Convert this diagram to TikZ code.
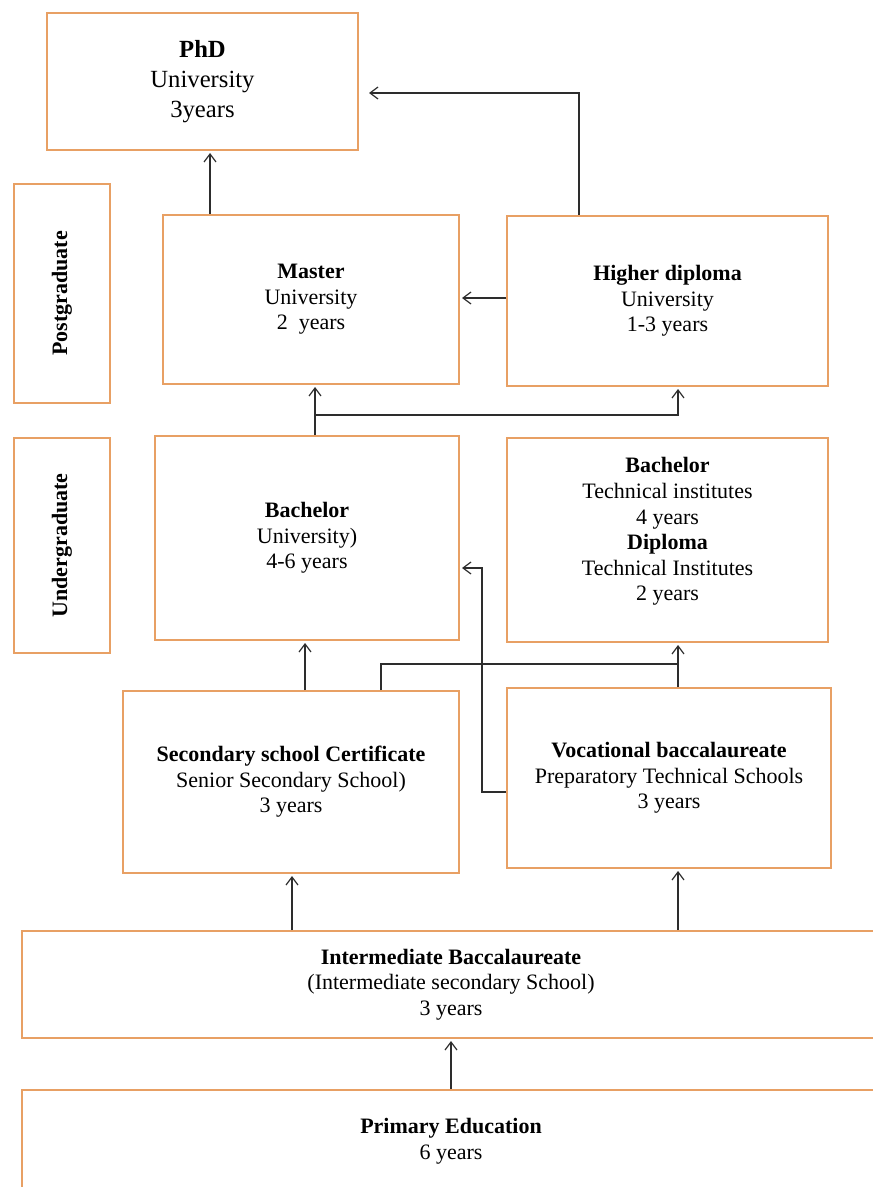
\documentclass[tikz,border=0pt]{standalone}
\usepackage{fontspec}
\setmainfont{Liberation Serif}
\usetikzlibrary{arrows.meta}

\definecolor{boxorange}{RGB}{232,160,100}
\definecolor{linegray}{RGB}{45,45,45}

\tikzset{every picture/.style={line width=0.75pt}}
\tikzset{
  stagebox/.style={draw=boxorange, line width=1.5pt, fill=white, inner sep=0pt, align=center,
    font=\fontsize{16.5}{19.2}\selectfont},
  levelbox/.style={stagebox, rotate=90, font=\fontsize{16.5}{19.2}\selectfont\bfseries},
  arr/.style={draw=linegray, line width=0.9pt, -{Straight Barb[length=6pt,width=9pt]}, shorten >=1.5pt},
  link/.style={draw=linegray, line width=0.9pt}
}

\begin{document}
\begin{tikzpicture}[x=0.75pt,y=0.75pt,yscale=-1,xscale=1]
\useasboundingbox (0,0) rectangle (873,1187);
\clip (0,0) rectangle (873,1187);

%Shape: Rectangle [PhD]
\node[stagebox, minimum width=233.25pt, minimum height=102.75pt, font=\fontsize{18.5}{22.5}\selectfont] (phd) at (202.5,81.5)
  {\textbf{PhD}\\University\\3years};
%Shape: Rectangle [levels]
\node[levelbox, minimum width=164.25pt, minimum height=72pt] (post) at (62,293.5) {Postgraduate};
\node[levelbox, minimum width=161.25pt, minimum height=72pt] (under) at (62,545.5) {Undergraduate};
%Shape: Rectangle [postgraduate]
\node[stagebox, minimum width=222pt, minimum height=126.75pt] (master) at (311,299.5)
  {\textbf{Master}\\University\\2\ \ years};
\node[stagebox, minimum width=240.75pt, minimum height=127.5pt] (hdip) at (667.5,301)
  {\textbf{Higher diploma}\\University\\1-3 years};
%Shape: Rectangle [undergraduate]
\node[stagebox, minimum width=228pt, minimum height=153pt] (bachu) at (307,538)
  {\textbf{Bachelor}\\University)\\4-6 years};
\node[stagebox, minimum width=240.75pt, minimum height=153pt] (btech) at (667.5,540)
  {\textbf{Bachelor}\\Technical institutes\\4 years\\\textbf{Diploma}\\Technical Institutes\\2 years\\[-3pt]\mbox{}};
%Shape: Rectangle [secondary]
\node[stagebox, minimum width=252pt, minimum height=136.5pt] (sec) at (291,782)
  {\textbf{Secondary school Certificate}\\Senior Secondary School)\\3 years};
\node[stagebox, minimum width=243pt, minimum height=135pt] (voc) at (669,778)
  {\textbf{Vocational baccalaureate}\\Preparatory Technical Schools\\3 years};
%Shape: Rectangle [basic]
\node[stagebox, minimum width=643.5pt, minimum height=80.25pt] (inter) at (451,984.5)
  {\textbf{Intermediate Baccalaureate}\\(Intermediate secondary School)\\3 years};
\node[stagebox, minimum width=643.5pt, minimum height=77.25pt] (prim) at (451,1141)
  {\textbf{Primary Education}\\6 years};

%Straight Lines [joints]
\coordinate (j1) at (315,415);
\coordinate (j2) at (678,664);
\coordinate (j3) at (482,792);

%Straight Lines [postgraduate]
\draw[arr] (master.north -| 210,0) -- (phd.south -| 210,0);
\draw[arr, shorten >=7.5pt] (hdip.north -| 579,0) |- (phd.east |- 0,93);
\draw[arr] (hdip.west |- 0,298) -- (master.east |- 0,298);
%Straight Lines [bachelor]
\draw[link] (bachu.north -| j1) -- (j1);
\draw[arr] (j1) -- (master.south -| j1);
\draw[arr] (j1) -| (hdip.south -| j2);
%Straight Lines [secondary]
\draw[arr] (sec.north -| 305,0) -- (bachu.south -| 305,0);
\draw[link] (sec.north -| 381,0) |- (j2);
\draw[arr] (voc.north -| j2) -- (btech.south -| j2);
\draw[arr] (voc.west |- j3) -- (j3) |- (bachu.east |- 0,568);
%Straight Lines [basic]
\draw[arr] (inter.north -| 292,0) -- (sec.south -| 292,0);
\draw[arr] (inter.north -| j2) -- (voc.south -| j2);
\draw[arr] (prim.north) -- (inter.south);

\end{tikzpicture}
\end{document}
